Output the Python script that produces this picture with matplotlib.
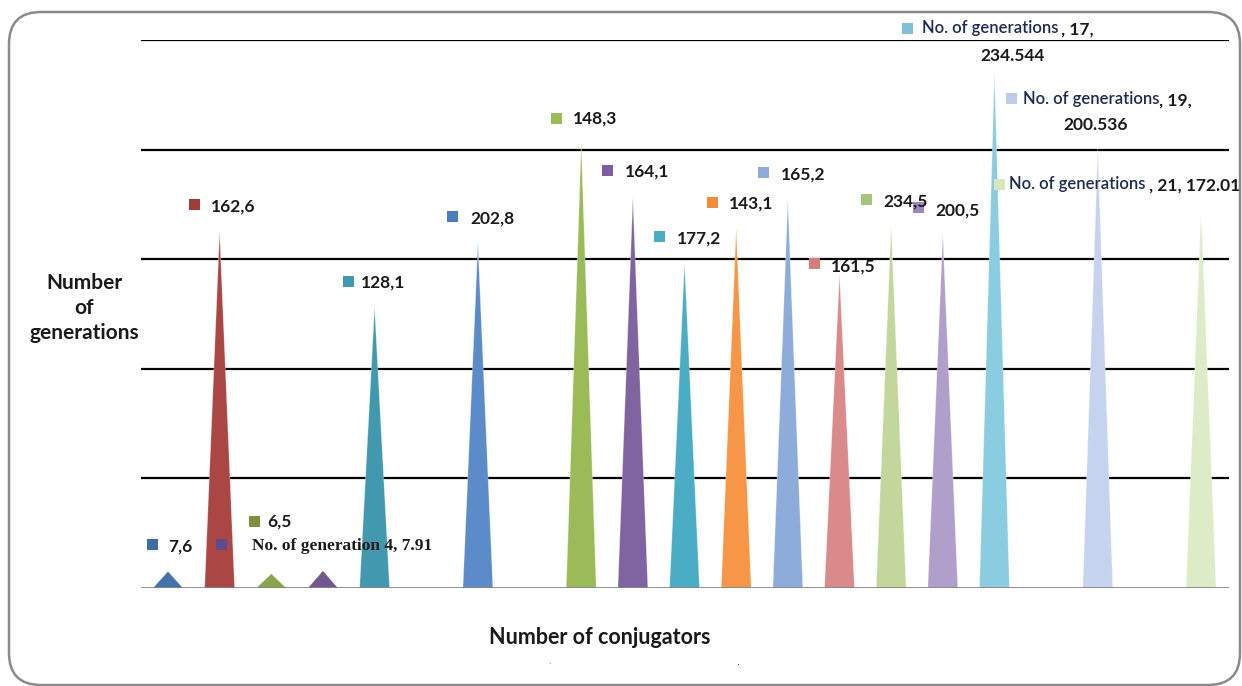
import matplotlib
matplotlib.use("Agg")
import matplotlib.pyplot as plt
from matplotlib.patches import Rectangle, FancyBboxPatch

# ---- data -------------------------------------------------------------
conjugators = [1, 2, 3, 4, 5, 7, 9, 10, 11, 12, 13, 14, 15, 16, 17, 19, 21]
generations = [7.6, 162.6, 6.5, 7.91, 128.1, 157.5, 202.8, 178.2, 148.3,
               164.1, 177.2, 143.1, 165.2, 161.5, 234.544, 200.536, 172.01]
cone_colors = ["#4572A7", "#AA4643", "#89A54E", "#71588F", "#4198AF",
               "#5B8BC9", "#9BBB59", "#8064A2", "#4BACC6", "#F79646",
               "#8EACD9", "#DA8A8A", "#C3D69B", "#B09FCA", "#8ACCE0",
               "#C6D3EE", "#DDEBC6"]

value_labels = ["7,6", "162,6", "6,5", "128,1", "202,8", "148,3", "164,1",
                "177,2", "143,1", "165,2", "161,5", "234,5", "200,5"]
value_label_colors = ["#3E6BA6", "#9E3C3A", "#7F8F3C", "#4198AF", "#4A7EBB",
                      "#9BBB59", "#7B5EA0", "#4BACC6", "#F08C3C", "#8EACD9",
                      "#D77C7C", "#A8C47C", "#9C86BC"]
series_name = "No. of generations"
y_max = 250
grid_values = [50, 100, 150, 200, 250]

# ---- layout -----------------------------------------------------------
W, H = 1242, 686
fig = plt.figure(figsize=(W / 100, H / 100), dpi=100)
fig.patch.set_facecolor("white")


def fx(px):
    return px / W


def fy(py):
    return 1 - py / H


# rounded frame around the whole chart
frame = FancyBboxPatch((9 / 100, (H - 685) / 100), (1240 - 9) / 100, (685 - 12) / 100,
                       boxstyle="round,pad=0,rounding_size=0.32",
                       transform=fig.dpi_scale_trans, facecolor="none",
                       edgecolor="#8A8A8A", linewidth=1.8, zorder=0)
fig.add_artist(frame)

ax = fig.add_axes([fx(141), fy(588), fx(1229) - fx(141), (588 - 40) / H])
ax.set_xlim(0.478, 21.54)
ax.set_ylim(0, y_max)
ax.set_facecolor("none")

for g in grid_values:
    ax.axhline(g, color="black", lw=1.6, zorder=1)
ax.axhline(0, color="#858585", lw=2.0, zorder=4)

half_w = 0.29
for x, h, c in zip(conjugators, generations, cone_colors):
    ax.fill([x - half_w, x, x + half_w], [0, h, 0], color=c, lw=0, zorder=3)
    ax.fill([x - half_w, x, x + half_w], [0, h, 0], facecolor="none",
            edgecolor="white", lw=0.6, alpha=0.35, zorder=3)

ax.set_xticks([])
ax.set_yticks([])
for s in ax.spines.values():
    s.set_visible(False)

# ---- axis titles ------------------------------------------------------
title_font = dict(family=["Lato", "DejaVu Sans"], weight="bold", color="#1A1A1A")
fig.text(fx(600), fy(637), "Number of conjugators", ha="center", va="center",
         fontsize=15.5, **title_font)
fig.text(fx(84), fy(308), "Number\nof\ngenerations", ha="center", va="center",
         fontsize=15, linespacing=1.3, **title_font)

# ---- data labels ------------------------------------------------------
SQ = 11


def square(px, py, color):
    fig.add_artist(Rectangle((fx(px - SQ / 2), fy(py + SQ / 2)), SQ / W, SQ / H,
                             transform=fig.transFigure, facecolor=color,
                             edgecolor="none", zorder=6))


label_font = dict(family=["Lato", "DejaVu Sans"], weight="bold", color="#1A1A1A",
                  fontsize=12.5, va="center", ha="left", zorder=7)

# (square x, square y, text x, text y) in pixels
value_label_pos = [(152, 544, 168, 547), (194, 205, 211, 207), (254, 521, 267, 522),
                   (348, 281, 361, 283), (452, 216, 470, 219), (556, 118, 573, 119),
                   (607, 170, 625, 172), (659, 236, 677, 239), (712, 202, 729, 204),
                   (763, 172, 781, 175), (814, 264, 831, 267), (866, 199, 883, 202),
                   (918, 207, 935, 211)]
for txt, col, (sx, sy, tx, ty) in zip(value_labels, value_label_colors, value_label_pos):
    square(sx, sy, col)
    fig.text(fx(tx), fy(ty), txt, **label_font)

# conjugator 4 label, serif face
square(221, 544, "#5F4B8B")
fig.text(fx(252), fy(546), f"No. of generation {conjugators[3]}, {generations[3]:.2f}",
         family=["Liberation Serif", "DejaVu Serif"], weight="bold", color="#1A1A1A",
         fontsize=12.5, va="center", ha="left", zorder=7)

name_font = dict(family=["Lato", "DejaVu Sans"], weight="semibold", color="#1F2A52",
                 fontsize=12, va="center", ha="left", zorder=7)
num_font = dict(family=["Lato", "DejaVu Sans"], weight="bold", color="#1A1A1A",
                fontsize=12.5, va="center", zorder=7)

# conjugator 17
square(907, 28, "#7EC0D6")
fig.text(fx(922), fy(28), series_name, **name_font)
fig.text(fx(1061), fy(30), f", {conjugators[14]},", ha="left", **num_font)
fig.text(fx(1013), fy(56), f"{generations[14]:.3f}", ha="center", **num_font)

# conjugator 19
square(1011, 98, "#BFCBE8")
fig.text(fx(1023), fy(99), series_name, **name_font)
fig.text(fx(1159), fy(101), f", {conjugators[15]},", ha="left", **num_font)
fig.text(fx(1096), fy(125), f"{generations[15]:.3f}", ha="center", **num_font)

# conjugator 21
square(999, 184, "#D8E6C0")
fig.text(fx(1009), fy(184), series_name, **name_font)
fig.text(fx(1149), fy(186), f", {conjugators[16]}, {generations[16]:.2f}", ha="left",
         **num_font)

fig.text(fx(549), fy(662), ".", fontsize=6, color="#555555", ha="center", va="center")
fig.text(fx(738), fy(662), ".", fontsize=7, color="#222222", ha="center", va="center")

fig.savefig("out.png", dpi=100, facecolor="white")
